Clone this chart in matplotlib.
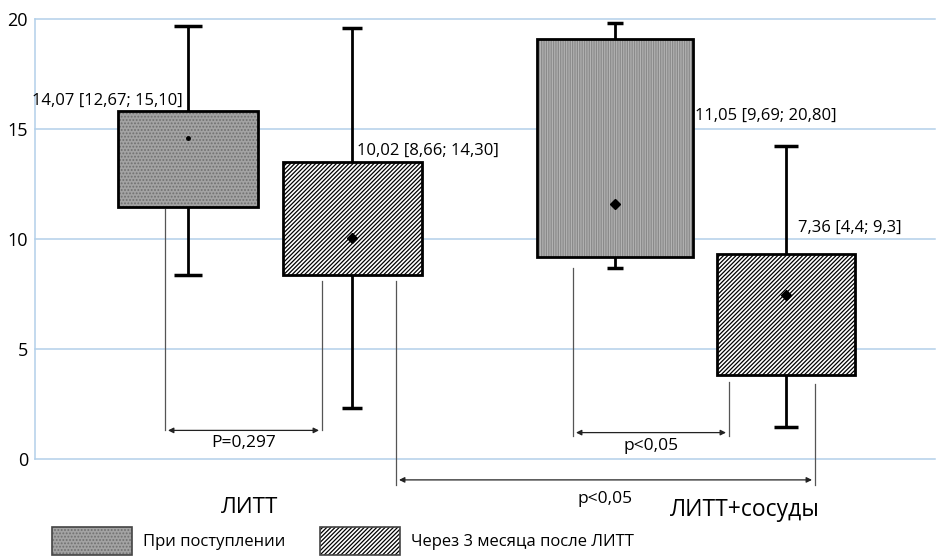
import numpy as np
import matplotlib
matplotlib.use("Agg")
import matplotlib.pyplot as plt
from matplotlib.patches import Rectangle

plt.rcParams['font.family'] = ['Open Sans', 'DejaVu Sans']
plt.rcParams['hatch.linewidth'] = 0.9

# box data
positions = [1.53, 3.17, 5.80, 7.51]
widths = [1.40, 1.39, 1.56, 1.38]
q1 = [11.45, 8.36, 9.2, 3.8]
q3 = [15.8, 13.5, 19.1, 9.3]
whisk_lo = [8.36, 2.3, 8.7, 1.45]
whisk_hi = [19.7, 19.6, 19.8, 14.25]
means = [14.6, 10.05, 11.6, 7.45]
box_labels = ["14,07 [12,67; 15,10]", "10,02 [8,66; 14,30]",
              "11,05 [9,69; 20,80]", "7,36 [4,4; 9,3]"]
groups = ["ЛИТТ", "ЛИТТ+сосуды"]
legend_labels = ["При поступлении", "Через 3 месяца после ЛИТТ"]
yticks = [0, 5, 10, 15, 20]

grid_col = '#b3d0ea'

fig = plt.figure(figsize=(9.37, 5.57), dpi=100)
ax = fig.add_axes([35 / 937, 98 / 557, 900 / 937, 440 / 557])
ax.set_xlim(0, 9)
ax.set_ylim(0, 20)
ax.set_yticks(yticks)
ax.set_xticks([])
for t in yticks:
    ax.axhline(t, color=grid_col, lw=1.1, zorder=0, clip_on=False)
for s in ['top', 'right', 'bottom']:
    ax.spines[s].set_visible(False)
ax.spines['left'].set_color(grid_col)
ax.spines['left'].set_linewidth(1.1)
ax.tick_params(axis='y', length=0, pad=5, labelsize=13)

styles = [
    dict(fc='#a3a3a3', hatch='.....', hc='#707070'),
    dict(fc='white', hatch='/' * 8, hc='black'),
    dict(fc='#b4b4b4', hatch='|||||||', hc='#8a8a8a'),
    dict(fc='white', hatch='/' * 8, hc='black'),
]
caps = [0.14, 0.10, 0.08, 0.12]

for i in range(4):
    st = styles[i]
    # whiskers
    ax.vlines(positions[i], whisk_lo[i], whisk_hi[i], color='black', lw=2, zorder=2)
    ax.hlines([whisk_lo[i], whisk_hi[i]], positions[i] - caps[i], positions[i] + caps[i],
              color='black', lw=2.5, zorder=2)
    # box fill with hatch, then outline
    ax.bar(positions[i], q3[i] - q1[i], bottom=q1[i], width=widths[i],
           color=st['fc'], edgecolor=st['hc'], hatch=st['hatch'], lw=0, zorder=3)
    ax.bar(positions[i], q3[i] - q1[i], bottom=q1[i], width=widths[i],
           fill=False, edgecolor='black', lw=2, zorder=4)
    ms = 2.5 if i == 0 else 5
    mk = 'o' if i == 0 else 'D'
    ax.plot(positions[i], means[i], marker=mk, ms=ms, color='black', zorder=5)

# value labels
ax.text(positions[0] - 0.05, 16.3, box_labels[0], ha='right', va='center', fontsize=12)
ax.text(positions[1] + 0.05, 14.0, box_labels[1], ha='left', va='center', fontsize=12)
ax.text(positions[2] + widths[2] / 2 + 0.02, 15.6, box_labels[2], ha='left', va='center', fontsize=12)
ax.text(positions[3] + 0.12, 10.5, box_labels[3], ha='left', va='center', fontsize=12)


def bracket(x1, x2, y_arrow, top1, top2, bot, label, ly):
    ax.plot([x1, x1], [top1, bot], color='#555555', lw=0.9, clip_on=False)
    ax.plot([x2, x2], [top2, bot], color='#555555', lw=0.9, clip_on=False)
    ax.annotate('', xy=(x2 - 0.03, y_arrow), xytext=(x1 + 0.03, y_arrow),
                arrowprops=dict(arrowstyle='<|-|>', color='#222222', lw=0.9,
                                mutation_scale=8, shrinkA=0, shrinkB=0),
                annotation_clip=False)
    ax.text((x1 + x2) / 2, ly, label, ha='center', va='center', fontsize=12.5)


bracket(1.30, 2.87, 1.3, 11.35, 8.1, 1.3, "P=0,297", 0.72)
bracket(5.38, 6.94, 1.2, 8.7, 3.5, 1.05, "p<0,05", 0.6)
bracket(3.61, 7.80, -0.95, 8.1, 3.4, -1.2, "p<0,05", -1.8)

# group labels
ax.text(2.15, -2.2, groups[0], ha='center', va='center', fontsize=16, clip_on=False)
ax.text(7.1, -2.3, groups[1], ha='center', va='center', fontsize=16.5, clip_on=False)

# legend
lx = [52 / 937, 320 / 937]
for j in range(2):
    st = styles[j]
    fig.patches.append(Rectangle((lx[j], 2 / 557), 80 / 937, 28 / 557, transform=fig.transFigure,
                                 facecolor=st['fc'], edgecolor=st['hc'], hatch=st['hatch'], lw=0))
    fig.patches.append(Rectangle((lx[j], 2 / 557), 80 / 937, 28 / 557, transform=fig.transFigure,
                                 fill=False, edgecolor='#444444', lw=1.2))
    fig.text(lx[j] + 91 / 937, 15 / 557, legend_labels[j], ha='left', va='center', fontsize=12)

fig.savefig('out.png', dpi=100)
